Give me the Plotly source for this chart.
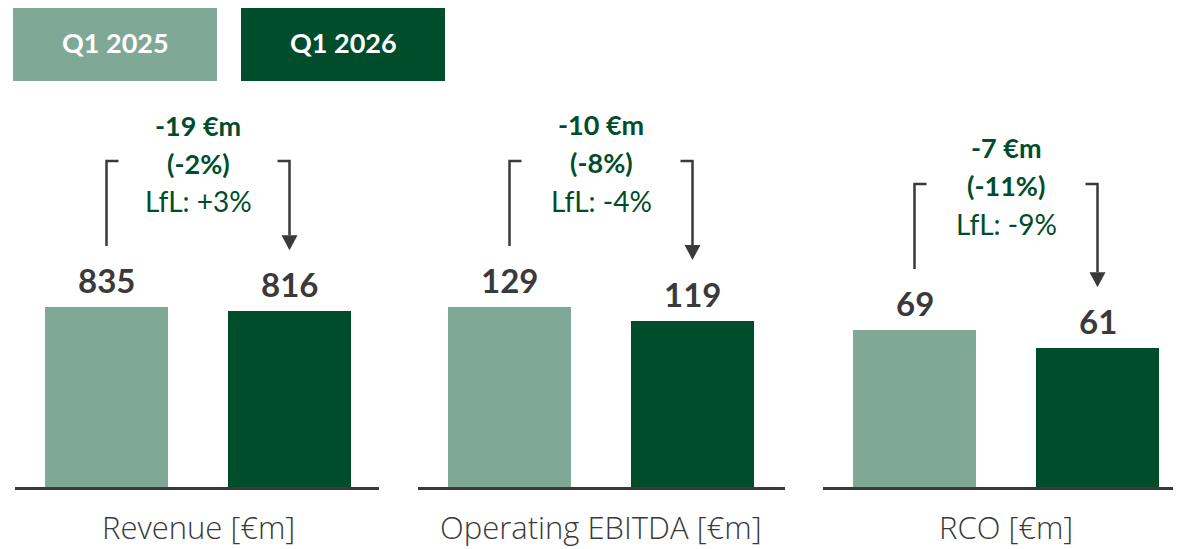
import plotly.graph_objects as go

# ---------------- data ----------------
panels = ["Revenue [€m]", "Operating EBITDA [€m]", "RCO [€m]"]
series_names = ["Q1 2025", "Q1 2026"]
q1_2025 = [835, 129, 69]
q1_2026 = [816, 119, 61]
delta_abs = ["-19 €m", "-10 €m", "-7 €m"]
delta_pct = ["(-2%)", "(-8%)", "(-11%)"]
lfl = ["LfL: +3%", "LfL: -4%", "LfL: -9%"]
y_max = [2260, 349, 214]

# ---------------- style ----------------
OFF = 8  # page body margin
W, H = 1181, 549
PLOT_H = 487 - OFF
LIGHT = "#80A896"
DARK = "#004D2C"
GREY = "#3A3A3A"
BOLD_FONT = "Lato"
LABEL_FONT = "Open Sans"
panel_px = [(15 - OFF, 379 - OFF), (418 - OFF, 785 - OFF), (823 - OFF, 1181 - OFF)]
UNIT_PX = 183.0
OFFSET_PX = 91.5

fig = go.Figure()
shapes = []
annotations = []

for i, name in enumerate(panels):
    ax = "" if i == 0 else str(i + 1)
    xa, ya = "x" + ax, "y" + ax
    x0p, x1p = panel_px[i]
    k = y_max[i] / 487.0  # data units per pixel
    yr = y_max[i] * PLOT_H / 487.0
    vals = [q1_2025[i], q1_2026[i]]
    fig.add_trace(go.Bar(
        x=[0, 1], y=vals, width=0.667,
        marker=dict(color=[LIGHT, DARK], line=dict(width=0)),
        xaxis=xa, yaxis=ya, showlegend=False, hoverinfo="skip",
    ))
    fig.layout["xaxis" + ax] = dict(
        domain=[x0p / W, x1p / W],
        range=[-OFFSET_PX / UNIT_PX, (x1p - x0p - OFFSET_PX) / UNIT_PX],
        showline=True, linecolor=GREY, linewidth=3,
        showticklabels=False, ticks="", showgrid=False, zeroline=False,
        anchor=ya, fixedrange=True,
    )
    fig.layout["yaxis" + ax] = dict(
        domain=[0, 1], range=[0, yr], visible=False,
        anchor=xa, fixedrange=True,
    )
    # value labels
    for j, v in enumerate(vals):
        annotations.append(dict(
            x=j, y=v, xref=xa, yref=ya, text=str(v), showarrow=False,
            yanchor="bottom", yshift=5,
            font=dict(family=BOLD_FONT, size=33, color=GREY, weight="bold"),
        ))
    # bracket + arrow
    vmax = max(vals)
    top = vmax + 146 * k
    left_bot = vals[0] + 61 * k
    tip = vals[1] + 61 * k
    head = tip + 15 * k
    stub = 12 / UNIT_PX
    hw = 8 / UNIT_PX
    line = dict(color=GREY, width=2.5)
    shapes.append(dict(type="path", xref=xa, yref=ya, line=line,
                       path=f"M 0,{left_bot} L 0,{top} L {stub},{top}"))
    shapes.append(dict(type="path", xref=xa, yref=ya, line=line,
                       path=f"M {1 - stub},{top} L 1,{top} L 1,{head}"))
    shapes.append(dict(type="path", xref=xa, yref=ya, line=dict(width=0),
                       fillcolor=GREY,
                       path=f"M {1 - hw},{head} L {1 + hw},{head} L 1,{tip} Z"))
    # delta texts
    annotations.append(dict(x=0.5, y=vmax, xref=xa, yref=ya, text=delta_abs[i],
                            showarrow=False, yanchor="middle", yshift=182,
                            font=dict(family=BOLD_FONT, size=27, color=DARK, weight="bold")))
    annotations.append(dict(x=0.5, y=vmax, xref=xa, yref=ya, text=delta_pct[i],
                            showarrow=False, yanchor="middle", yshift=144,
                            font=dict(family=BOLD_FONT, size=27, color=DARK, weight="bold")))
    annotations.append(dict(x=0.5, y=vmax, xref=xa, yref=ya, text=lfl[i],
                            showarrow=False, yanchor="middle", yshift=106,
                            font=dict(family=BOLD_FONT, size=28, color=DARK)))
    # panel label
    annotations.append(dict(x=0.5, y=0, xref=xa, yref=ya, text=name,
                            showarrow=False, yanchor="middle", yshift=-40,
                            font=dict(family=LABEL_FONT, size=31, color=GREY, weight=300)))

# legend boxes
legend_px = [(13 - OFF, 217 - OFF), (241 - OFF, 445 - OFF)]
for n, (lx0, lx1), col in zip(series_names, legend_px, [LIGHT, DARK]):
    y0 = (PLOT_H - (81 - OFF)) / PLOT_H
    y1 = 1.0
    shapes.append(dict(type="rect", xref="paper", yref="paper",
                       x0=lx0 / W, x1=lx1 / W, y0=y0, y1=y1,
                       fillcolor=col, line=dict(width=0)))
    annotations.append(dict(x=(lx0 + lx1) / 2 / W, y=(PLOT_H - (43 - OFF)) / PLOT_H,
                            xref="paper", yref="paper", text=n, showarrow=False,
                            xanchor="center", yanchor="middle",
                            font=dict(family=BOLD_FONT, size=27, color="white", weight="bold")))

fig.update_layout(
    width=W, height=H,
    margin=dict(l=0, r=0, t=0, b=H - PLOT_H),
    paper_bgcolor="white", plot_bgcolor="white",
    shapes=shapes, annotations=annotations,
    showlegend=False, bargap=0,
)

fig.write_html("out.html")
